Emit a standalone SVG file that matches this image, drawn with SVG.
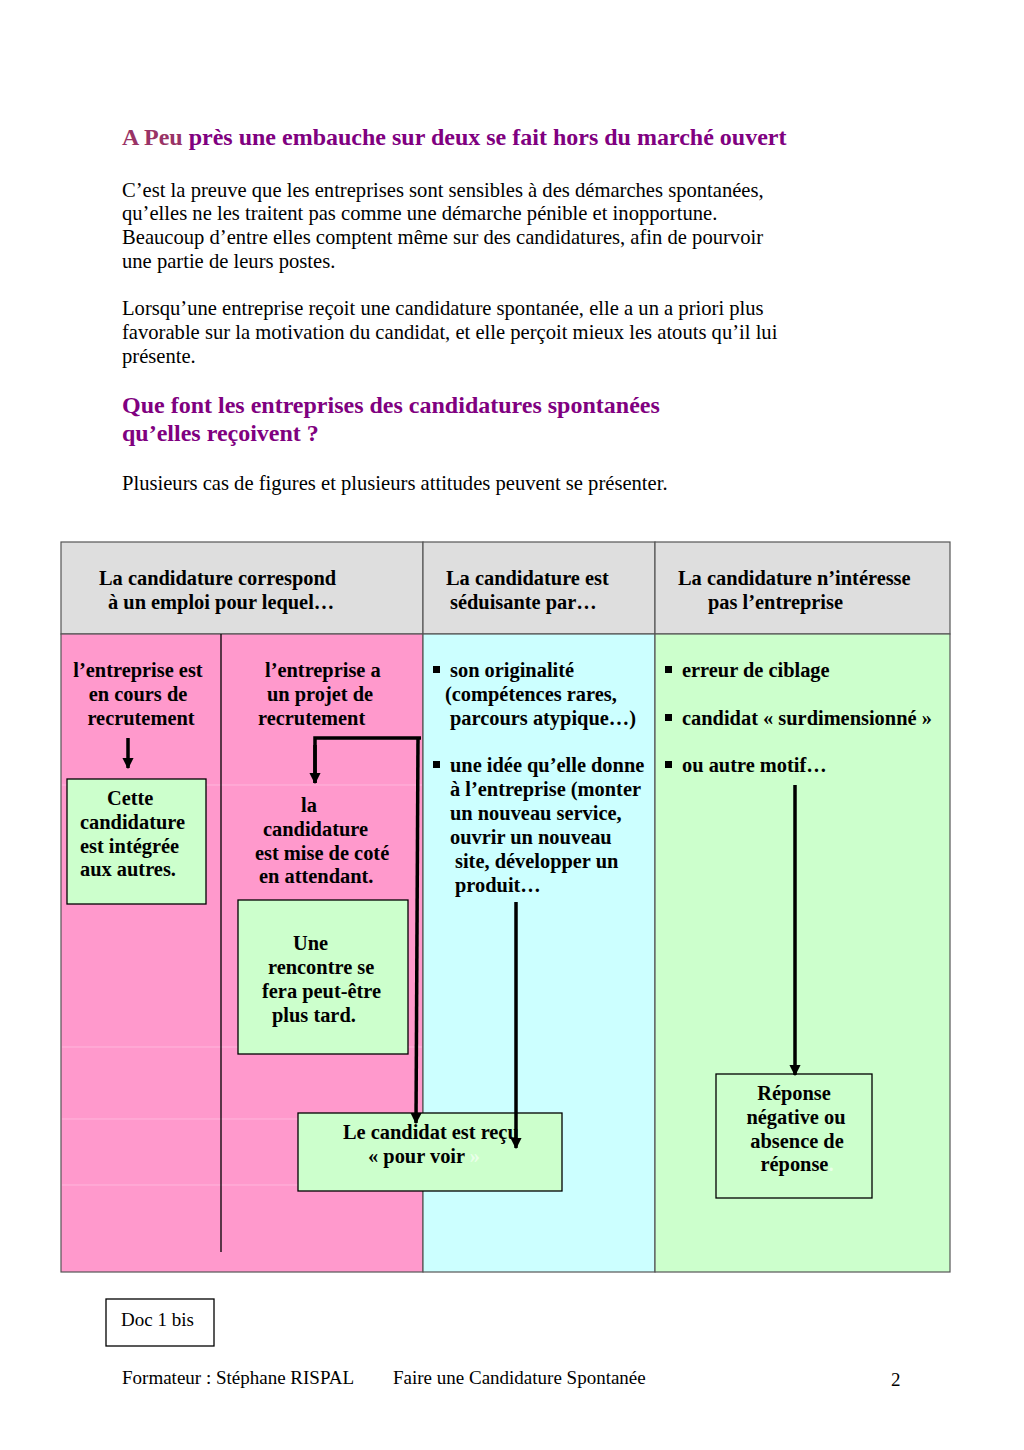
<svg xmlns="http://www.w3.org/2000/svg" width="1024" height="1450" viewBox="0 0 1024 1450">
<style>
.p{font-family:"Liberation Serif","Times New Roman",serif;font-size:20.6px;fill:#000}
.f{font-family:"Liberation Serif","Times New Roman",serif;font-size:19px;fill:#000}
.h{font-family:"Liberation Serif","Times New Roman",serif;font-size:24px;font-weight:bold;fill:#800080}
.b{font-family:"Liberation Serif","Times New Roman",serif;font-size:20.4px;font-weight:bold;fill:#000}
.box{fill:#ccffcc;stroke:#000;stroke-width:1.3}
.cell{stroke:#555;stroke-width:1.2}
.con{fill:none;stroke:#000;stroke-width:3.5}
.faint{stroke:#ffb6dc;stroke-width:1}
.bul{fill:#000}
</style>
<defs>
<marker id="ah" viewBox="0 0 10 10" refX="9" refY="5" markerWidth="3.2" markerHeight="3.2" orient="auto" markerUnits="strokeWidth">
<path d="M0,0 L10,5 L0,10 z" fill="#000"/>
</marker>
</defs>
<rect width="1024" height="1450" fill="#fff"/>

<g id="intro">
<text class="h" x="122" y="145"><tspan fill="#993366">A Peu</tspan> près une embauche sur deux se fait hors du marché ouvert</text>
<text class="p" x="122" y="197">C’est la preuve que les entreprises sont sensibles à des démarches spontanées,</text>
<text class="p" x="122" y="220">qu’elles ne les traitent pas comme une démarche pénible et inopportune.</text>
<text class="p" x="122" y="244">Beaucoup d’entre elles comptent même sur des candidatures,  afin de pourvoir</text>
<text class="p" x="122" y="268">une partie de leurs postes.</text>
<text class="p" x="122" y="315">Lorsqu’une entreprise reçoit une candidature spontanée, elle a un a priori plus</text>
<text class="p" x="122" y="339">favorable sur la motivation du candidat, et elle perçoit mieux les atouts qu’il lui</text>
<text class="p" x="122" y="363">présente.</text>
<text class="h" x="122" y="413">Que font les entreprises des candidatures spontanées</text>
<text class="h" x="122" y="441">qu’elles reçoivent ?</text>
<text class="p" x="122" y="490">Plusieurs cas de figures et plusieurs attitudes peuvent se présenter.</text>
</g>

<g id="table">
<rect class="cell" x="61" y="542" width="362" height="92" fill="#dedede"/>
<rect class="cell" x="423" y="542" width="232" height="92" fill="#dedede"/>
<rect class="cell" x="655" y="542" width="295" height="92" fill="#dedede"/>
<rect class="cell" x="61" y="634" width="362" height="638" fill="#ff99cc"/>
<rect class="cell" x="423" y="634" width="232" height="638" fill="#ccffff"/>
<rect class="cell" x="655" y="634" width="295" height="638" fill="#ccffcc"/>
<line class="faint" x1="62" y1="785" x2="422" y2="785"/>
<line class="faint" x1="62" y1="1047" x2="422" y2="1047"/>
<line class="faint" x1="62" y1="1119" x2="422" y2="1119"/>
<line class="faint" x1="62" y1="1185" x2="422" y2="1185"/>
<line x1="221" y1="634" x2="221" y2="1252" stroke="#000" stroke-width="1.3"/>
</g>

<g id="headers">
<text class="b" x="99" y="585">La candidature correspond</text>
<text class="b" x="108" y="609">à un emploi pour lequel…</text>
<text class="b" x="446" y="585">La candidature est</text>
<text class="b" x="450" y="609">séduisante par…</text>
<text class="b" x="678" y="585">La candidature n’intéresse</text>
<text class="b" x="708" y="609">pas l’entreprise</text>
</g>

<g id="col1-label">
<text class="b" text-anchor="middle" x="138" y="677">l’entreprise est</text>
<text class="b" text-anchor="middle" x="138" y="701">en cours de</text>
<text class="b" text-anchor="middle" x="141" y="725">recrutement</text>
</g>

<g id="col2-label">
<text class="b" x="265" y="677">l’entreprise a</text>
<text class="b" x="267" y="701">un projet de</text>
<text class="b" x="258" y="725">recrutement</text>
</g>

<g id="box-integree">
<rect class="box" x="67" y="779" width="139" height="125"/>
<text class="b" x="107" y="805">Cette</text>
<text class="b" x="80" y="829">candidature</text>
<text class="b" x="80" y="853">est intégrée</text>
<text class="b" x="80" y="876">aux autres.</text>
</g>

<g id="mise-de-cote">
<text class="b" x="301" y="812">la</text>
<text class="b" x="263" y="836">candidature</text>
<text class="b" x="255" y="860">est mise de coté</text>
<text class="b" x="259" y="883">en attendant.</text>
</g>

<g id="box-rencontre">
<rect class="box" x="238" y="900" width="170" height="154"/>
<text class="b" x="293" y="950">Une</text>
<text class="b" x="268" y="974">rencontre se</text>
<text class="b" x="262" y="998">fera peut-être</text>
<text class="b" x="272" y="1022">plus tard.</text>
</g>

<g id="col-seduisante">
<rect class="bul" x="433" y="666" width="7" height="7"/>
<text class="b" x="450" y="677">son originalité</text>
<text class="b" x="445" y="701">(compétences rares,</text>
<text class="b" x="450" y="725">parcours atypique…)</text>
<rect class="bul" x="433" y="761" width="7" height="7"/>
<text class="b" x="450" y="772">une idée qu’elle donne</text>
<text class="b" x="450" y="796">à l’entreprise (monter</text>
<text class="b" x="450" y="820">un nouveau service,</text>
<text class="b" x="450" y="844">ouvrir un nouveau</text>
<text class="b" x="455" y="868">site, développer un</text>
<text class="b" x="455" y="892">produit…</text>
</g>

<g id="col-interesse-pas">
<rect class="bul" x="665" y="666" width="7" height="7"/>
<text class="b" x="682" y="677">erreur de ciblage</text>
<rect class="bul" x="665" y="714" width="7" height="7"/>
<text class="b" x="682" y="725">candidat « surdimensionné »</text>
<rect class="bul" x="665" y="761" width="7" height="7"/>
<text class="b" x="682" y="772">ou autre motif…</text>
</g>

<g id="box-recu">
<rect class="box" x="298" y="1113" width="264" height="78"/>
<text class="b" x="343" y="1139">Le candidat est reçu</text>
<text class="b" x="368" y="1163">« pour voir <tspan fill="#eaffea">»</tspan></text>
</g>

<g id="box-reponse">
<rect class="box" x="716" y="1074" width="156" height="124"/>
<text class="b" text-anchor="middle" x="794" y="1100">Réponse</text>
<text class="b" text-anchor="middle" x="796" y="1124">négative ou</text>
<text class="b" text-anchor="middle" x="797" y="1148">absence de</text>
<text class="b" text-anchor="middle" x="797" y="1171">réponse<tspan fill="#eaffea">.</tspan></text>
</g>

<g id="connectors">
<line class="con" x1="128" y1="738" x2="128" y2="768" marker-end="url(#ah)"/>
<path class="con" d="M315,783 L315,738 L421,738"/>
<line class="con" x1="315" y1="745" x2="315" y2="783" marker-end="url(#ah)"/>
<line class="con" x1="418" y1="738" x2="416" y2="1123" marker-end="url(#ah)"/>
<line class="con" x1="516" y1="902" x2="516" y2="1148" marker-end="url(#ah)"/>
<line class="con" x1="795" y1="785" x2="795" y2="1075" marker-end="url(#ah)"/>
</g>

<g id="footer">
<rect x="106" y="1299" width="108" height="47" fill="#fff" stroke="#000" stroke-width="1.3"/>
<text class="f" x="121" y="1326">Doc 1 bis</text>
<text class="f" x="122" y="1384">Formateur : Stéphane RISPAL</text>
<text class="f" x="393" y="1384">Faire une Candidature Spontanée</text>
<text class="f" x="891" y="1386">2</text>
</g>
</svg>
